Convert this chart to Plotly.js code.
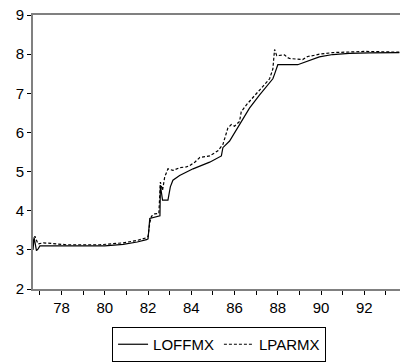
<!DOCTYPE html>
<html>
<head>
<meta charset="utf-8">
<script src="https://cdn.plot.ly/plotly-3.0.1.min.js"></script>
<style>html,body{margin:0;padding:0;background:#fff;}#chart{width:400px;height:362px;}</style>
</head>
<body>
<div id="chart"></div>
<script>
// LOFFMX (solid)
const loffmxYears = [76.68,76.73,76.77,76.84,76.91,77.0,78.0,79.0,80.0,80.85,81.5,81.93,82.0,82.08,82.46,82.55,82.57,82.67,82.92,83.03,83.15,83.46,84.08,84.85,85.39,85.46,85.77,86.23,86.69,87.15,87.77,87.85,87.93,88.0,88.92,89.38,89.92,90.54,91.3,92.23,93.62];
const loffmxValues = [3.0,3.32,3.2,2.98,3.02,3.1,3.1,3.1,3.1,3.14,3.2,3.26,3.28,3.8,3.86,3.87,4.65,4.27,4.27,4.61,4.78,4.90,5.07,5.24,5.40,5.61,5.78,6.20,6.62,6.95,7.37,7.49,7.62,7.73,7.73,7.83,7.93,7.99,8.02,8.03,8.04];
// LPARMX (dashed)
const lparmxYears = [76.68,76.77,76.91,77.16,78.24,79.77,80.85,81.5,81.93,82.0,82.08,82.16,82.31,82.5,82.57,82.67,82.77,82.92,83.15,83.46,83.77,83.92,84.16,84.39,84.85,85.23,85.46,85.69,85.85,86.0,86.23,86.31,86.54,87.15,87.62,87.77,87.85,87.95,88.31,88.46,88.54,89.15,89.38,89.61,89.92,90.54,92.08,93.62];
const lparmxValues = [3.2,3.35,3.15,3.18,3.13,3.13,3.18,3.24,3.31,3.34,3.69,3.86,3.92,3.93,4.73,4.52,4.86,5.07,5.03,5.10,5.12,5.15,5.24,5.36,5.40,5.53,5.69,6.11,6.20,6.16,6.28,6.53,6.70,7.08,7.37,7.62,8.12,7.96,7.98,7.91,7.89,7.86,7.94,7.96,8.00,8.04,8.07,8.05];
const xTickVals = [78,80,82,84,86,88,90,92];
const xTickText = ["78","80","82","84","86","88","90","92"];
const xMinorTicks = [77,79,81,83,85,87,89,91,93];

const traces = [
  {x: loffmxYears, y: loffmxValues, name: "LOFFMX", type: "scatter", mode: "lines",
   line: {color: "#000", width: 1.2}},
  {x: lparmxYears, y: lparmxValues, name: "LPARMX", type: "scatter", mode: "lines",
   line: {color: "#000", width: 1.2, dash: "3px,2px"}}
];

const layout = {
  width: 400, height: 362,
  margin: {l: 33, r: 0, t: 15, b: 68},
  paper_bgcolor: "#fff", plot_bgcolor: "#fff",
  font: {family: "Liberation Sans, Arial, sans-serif", size: 15, color: "#000"},
  showlegend: true,
  legend: {orientation: "h", x: 0.507, xanchor: "center", y: -0.14, yanchor: "top",
           bordercolor: "#000", borderwidth: 1, bgcolor: "#fff",
           font: {size: 15}, itemwidth: 30, tracegroupgap: 0},
  xaxis: {range: [76.68, 93.65], showgrid: false, zeroline: false,
          showline: true, linecolor: "#808080", linewidth: 2, mirror: true,
          tickmode: "array", tickvals: xTickVals, ticktext: xTickText,
          ticks: "outside", ticklen: 4, tickcolor: "#000", tickwidth: 1,
          minor: {tickmode: "array", tickvals: xMinorTicks, ticks: "outside", ticklen: 4, tickcolor: "#000", tickwidth: 1, showgrid: false},
          fixedrange: true},
  yaxis: {range: [2, 9], showgrid: false, zeroline: false,
          showline: true, linecolor: "#808080", linewidth: 2,
          tickmode: "linear", tick0: 2, dtick: 1,
          ticks: "outside", ticklen: 4, tickcolor: "#000", tickwidth: 1,
          fixedrange: true}
};

Plotly.newPlot("chart", traces, layout, {displayModeBar: false, staticPlot: true});
</script>
</body>
</html>
